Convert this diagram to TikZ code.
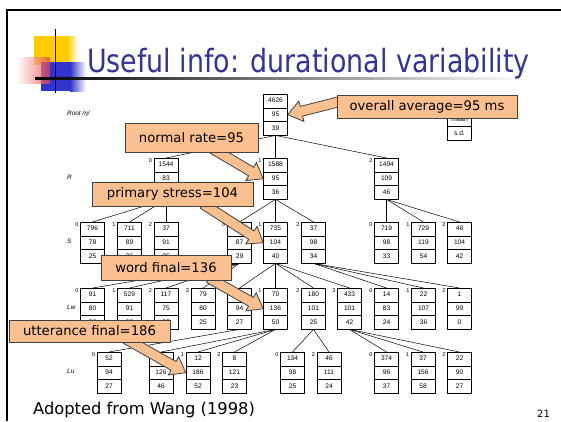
\documentclass[tikz,border=0pt]{standalone}
\usepackage{fontspec}
\setmainfont{DejaVu Sans}
\newfontfamily\titlefont[FakeStretch=0.84]{DejaVu Sans}
\newfontfamily\treefont{Liberation Sans}
\usetikzlibrary{shapes.multipart,calc}
\definecolor{titleblue}{RGB}{51,51,153}
\definecolor{peach}{RGB}{250,192,144}
\definecolor{sqyellow}{RGB}{255,204,0}
\definecolor{sqblue}{RGB}{51,51,204}
\definecolor{sqred}{RGB}{235,60,60}
\newcommand{\cs}[1]{\rule[-1.7pt]{0pt}{7pt}#1}
\newcommand{\cells}[3]{\cs{#1}\nodepart{two}\cs{#2}\nodepart{three}\cs{#3}}
\newcommand{\callarrow}[2]{%
  \draw[callarrow] let \p1=($(#2)-(#1)$), \n1={atan2(\y1,\x1)} in
    ($(#1)+(\n1+90:5)$) -- ($(#2)+(\n1+180:14)+(\n1+90:5)$)
    -- ($(#2)+(\n1+180:14)+(\n1+90:10.5)$) -- (#2)
    -- ($(#2)+(\n1+180:14)+(\n1-90:10.5)$) -- ($(#2)+(\n1+180:14)+(\n1-90:5)$)
    -- ($(#1)+(\n1-90:5)$) -- cycle;}
\begin{document}
\begin{tikzpicture}[x=1pt,y=1pt,
    tbox/.style={draw,fill=white,line width=0.6pt,rectangle split,rectangle split parts=3,
      text width=24pt,align=center,inner xsep=0pt,inner ysep=3pt,anchor=north,
      font=\treefont\fontsize{6.6}{7}\selectfont},
    idx/.style={anchor=north east,inner sep=0.8pt,xshift=-0.6pt,font=\treefont\fontsize{5.6}{6}\selectfont},
    lvl/.style={anchor=west,inner sep=0pt,font=\treefont\itshape\fontsize{6.4}{7}\selectfont},
    edge/.style={line width=0.5pt},
    callout/.style={draw=black!75,fill=peach,line width=0.8pt,inner sep=0pt,
      font=\fontsize{13.2}{15}\selectfont},
    callarrow/.style={draw=black!75,fill=peach,line width=0.8pt,line join=miter}]
    \useasboundingbox (0,0) rectangle (561,-421);
    % slide frame and title
    \draw [line width=2pt] (7,-421) -- (7,-10) -- (561,-10);
    \fill [sqyellow] (34,-36) rectangle (67,-65);
    \shade [left color=sqyellow,right color=white] (67,-36) rectangle (78,-65);
    \fill [sqblue] (41,-62) rectangle (70,-91);
    \shade [left color=sqblue,right color=white] (70,-62) rectangle (86,-91);
    \shade [left color=white,right color=sqred,opacity=0.7] (16,-57) rectangle (50,-83);
    \draw [line width=1.4pt] (55.5,-29) -- (55.5,-93);
    \shade [left color=black,right color=white] (35,-77) rectangle (526,-79);
    \node [anchor=base west,inner sep=0pt,text=titleblue,font=\titlefont\fontsize{32}{36}\selectfont] (title) at (87,-72) {Useful info: durational variability};
    % level labels
    \node [lvl] (lroot) at (67,-113.5) {Root /ŋ/};
    \node [lvl] (lr) at (67,-177.5) {R};
    \node [lvl] (ls) at (67,-241.5) {S};
    \node [lvl] (llw) at (67,-307.5) {Lw};
    \node [lvl] (llu) at (67,-371.5) {Lu};
    % boxes
    \node [tbox] (root) at (275.5,-94) {\cells{4626}{95}{39}};
    \node [tbox] (key) at (459.5,-99) {\cells{}{mean}{s.d.}};
    \node [tbox,label={[idx]north west:0}] (r0) at (166,-158) {\cells{1544}{83}{}};
    \node [tbox,label={[idx]north west:1}] (r1) at (275.5,-158) {\cells{1588}{95}{36}};
    \node [tbox,label={[idx]north west:2}] (r2) at (386.5,-158) {\cells{1494}{109}{46}};
    \node [tbox,label={[idx]north west:0}] (s0) at (92.5,-222) {\cells{796}{78}{25}};
    \node [tbox,label={[idx]north west:1}] (s1) at (129.5,-222) {\cells{711}{89}{36}};
    \node [tbox,label={[idx]north west:2}] (s2) at (166,-222) {\cells{37}{91}{25}};
    \node [tbox,label={[idx]north west:0}] (s3) at (239.5,-222) {\cells{816}{87}{29}};
    \node [tbox,label={[idx]north west:1}] (s4) at (275.5,-222) {\cells{735}{104}{40}};
    \node [tbox,label={[idx]north west:2}] (s5) at (313.5,-222) {\cells{37}{98}{34}};
    \node [tbox,label={[idx]north west:0}] (s6) at (386.5,-222) {\cells{719}{98}{33}};
    \node [tbox,label={[idx]north west:1}] (s7) at (423.5,-222) {\cells{729}{119}{54}};
    \node [tbox,label={[idx]north west:2}] (s8) at (459.5,-222) {\cells{46}{104}{42}};
    \node [tbox,label={[idx]north west:0}] (w0) at (92.5,-288) {\cells{91}{80}{26}};
    \node [tbox,label={[idx]north west:1}] (w1) at (129.5,-288) {\cells{529}{91}{30}};
    \node [tbox,label={[idx]north west:2}] (w2) at (166,-288) {\cells{117}{75}{33}};
    \node [tbox,label={[idx]north west:3}] (w3) at (203,-288) {\cells{79}{80}{25}};
    \node [tbox,label={[idx]north west:0}] (w4) at (239.5,-288) {\cells{52}{94}{27}};
    \node [tbox,label={[idx]north west:1}] (w5) at (275.5,-288) {\cells{70}{136}{50}};
    \node [tbox,label={[idx]north west:2}] (w6) at (313.5,-288) {\cells{180}{101}{25}};
    \node [tbox,label={[idx]north west:3}] (w7) at (349.5,-288) {\cells{433}{101}{42}};
    \node [tbox,label={[idx]north west:0}] (w8) at (386.5,-288) {\cells{14}{83}{24}};
    \node [tbox,label={[idx]north west:1}] (w9) at (423.5,-288) {\cells{22}{107}{36}};
    \node [tbox,label={[idx]north west:2}] (w10) at (459.5,-288) {\cells{1}{99}{0}};
    \node [tbox,label={[idx]north west:0}] (u0) at (109,-352) {\cells{52}{94}{27}};
    \node [tbox,label={[idx]north west:0}] (u1) at (161,-352) {\cells{50}{126}{46}};
    \node [tbox,label={[idx]north west:1}] (u2) at (198,-352) {\cells{12}{186}{52}};
    \node [tbox,label={[idx]north west:2}] (u3) at (234.5,-352) {\cells{8}{121}{23}};
    \node [tbox,label={[idx]north west:0}] (u4) at (292.5,-352) {\cells{134}{98}{25}};
    \node [tbox,label={[idx]north west:2}] (u5) at (329,-352) {\cells{46}{111}{24}};
    \node [tbox,label={[idx]north west:0}] (u6) at (386.5,-352) {\cells{374}{96}{37}};
    \node [tbox,label={[idx]north west:1}] (u7) at (423,-352) {\cells{37}{156}{58}};
    \node [tbox,label={[idx]north west:2}] (u8) at (459.5,-352) {\cells{22}{90}{27}};
    % tree edges
    \foreach \c in {r0,r1,r2} \draw [edge] (root.south) -- (\c.north);
    \foreach \c in {s0,s1,s2} \draw [edge] (r0.south) -- (\c.north);
    \foreach \c in {s3,s4,s5} \draw [edge] (r1.south) -- (\c.north);
    \foreach \c in {s6,s7,s8} \draw [edge] (r2.south) -- (\c.north);
    \foreach \c in {w0,w1,w2,w3} \draw [edge] (s3.south) -- (\c.north);
    \foreach \c in {w4,w5,w6,w7} \draw [edge] (s4.south) -- (\c.north);
    \foreach \c in {w8,w9,w10} \draw [edge] (s5.south) -- (\c.north);
    \draw [edge] (w4.south) -- (u0.north);
    \foreach \c in {u1,u2,u3} \draw [edge] (w5.south) -- (\c.north);
    \foreach \c in {u4,u5} \draw [edge] (w6.south) -- (\c.north);
    \foreach \c in {u6,u7,u8} \draw [edge] (w7.south) -- (\c.north);
    % callouts
    \coordinate (ta) at (342,-101);
    \coordinate (tb) at (213,-149);
    \coordinate (tc) at (203,-204);
    \coordinate (td) at (209,-278);
    \coordinate (te) at (126,-339);
    \callarrow{ta}{root.east}
    \callarrow{tb}{r1.west}
    \callarrow{tc}{s4.west}
    \callarrow{td}{w5.west}
    \callarrow{te}{u2.west}
    \node [callout,minimum width=180,minimum height=23] (avg) at (427,-106.5) {overall average=95 ms};
    \node [callout,minimum width=133,minimum height=29] (rate) at (191.5,-137.5) {normal rate=95};
    \node [callout,minimum width=161,minimum height=24] (stress) at (172.5,-194) {primary stress=104};
    \node [callout,minimum width=130,minimum height=25] (wfinal) at (166,-267.5) {word final=136};
    \node [callout,minimum width=161,minimum height=22] (ufinal) at (89.5,-331) {utterance final=186};
    % footer
    \node [anchor=base west,inner sep=0pt,font=\fontsize{16.3}{18}\selectfont] (src) at (33,-414) {Adopted from Wang (1998)};
    \node [anchor=base west,inner sep=0pt,font=\fontsize{10}{12}\selectfont] (page) at (537,-417) {21};
\end{tikzpicture}
\end{document}
